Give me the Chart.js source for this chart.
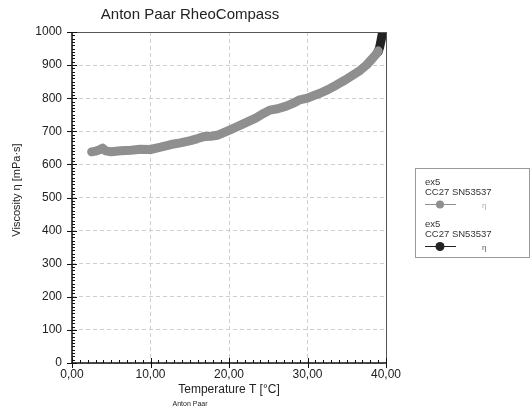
<!DOCTYPE html>
<html>
<head>
<meta charset="utf-8">
<title>Anton Paar RheoCompass</title>
<script src="https://cdn.jsdelivr.net/npm/chart.js@4/dist/chart.umd.min.js"></script>
<style>
  html, body { margin: 0; padding: 0; background: #fff; }
  canvas { display: block; }
</style>
</head>
<body>
<canvas id="viscosity-chart" width="531" height="411"></canvas>
<script>
'use strict';

var tempGrey = [2.5, 3.0, 3.5, 3.9, 4.3, 5.0, 6.2, 7.5, 8.7, 10.0, 11.3, 12.6, 13.8, 15.1, 16.0, 16.8,
  17.7, 18.5, 19.4, 20.0, 21.4, 22.5, 23.4, 24.4, 25.2, 26.2, 27.3, 28.2, 29.0, 30.0, 31.0, 31.6,
  32.6, 33.7, 34.8, 35.8, 36.7, 37.5, 38.2, 38.8, 39.0];
var viscGrey = [638, 640, 644, 649, 641, 638, 641, 643, 646, 645, 652, 660, 665, 672, 678, 684,
  685, 688, 697, 703, 718, 730, 740, 754, 764, 768, 776, 785, 795, 800, 810, 815,
  826, 840, 855, 870, 884, 900, 918, 935, 943];
var tempDark = [39.0, 39.2, 39.4, 39.6, 39.8];
var viscDark = [940, 955, 978, 1005, 1035];

var xTicks = [0, 10, 20, 30, 40];
var yTicks = [0, 100, 200, 300, 400, 500, 600, 700, 800, 900, 1000];

var seriesName = 'ex5';
var seriesDevice = 'CC27 SN53537';
var seriesSymbol = 'η';

var FONT = '"Liberation Sans", Arial, sans-serif';
var GREY = '#8f8f8f';
var DARK = '#222222';

function toPoints(xs, ys) {
  return xs.map(function (x, i) { return { x: x, y: ys[i] }; });
}

// Frame, minor ticks, titles, footer and legend drawn on the canvas
var decorPlugin = {
  id: 'rheoDecor',
  afterDatasetsDraw: function (chart) {
    var ctx = chart.ctx;
    var area = chart.chartArea;
    var xs = chart.scales.x;
    var ys = chart.scales.y;
    var i, p;

    ctx.save();

    // top and right frame
    ctx.strokeStyle = '#555';
    ctx.lineWidth = 1;
    ctx.beginPath();
    ctx.moveTo(area.left, area.top + 0.5);
    ctx.lineTo(area.right, area.top + 0.5);
    ctx.moveTo(area.right + 0.5, area.top);
    ctx.lineTo(area.right + 0.5, area.bottom);
    ctx.stroke();

    // axis lines
    ctx.strokeStyle = '#111';
    ctx.lineWidth = 1.5;
    ctx.beginPath();
    ctx.moveTo(area.left, area.top);
    ctx.lineTo(area.left, area.bottom);
    ctx.lineTo(area.right, area.bottom);
    ctx.stroke();

    // ticks on y
    ctx.lineWidth = 1;
    ctx.beginPath();
    for (i = 0; i <= 1000; i += 10) {
      p = Math.round(ys.getPixelForValue(i)) + 0.5;
      if (i % 100 === 0) {
        ctx.moveTo(area.left - 5, p);
        ctx.lineTo(area.left + 5, p);
      } else {
        ctx.moveTo(area.left, p);
        ctx.lineTo(area.left + 3, p);
      }
    }
    // ticks on x
    for (i = 0; i <= 40; i += 1) {
      p = Math.round(xs.getPixelForValue(i)) + 0.5;
      if (i % 10 === 0) {
        ctx.moveTo(p, area.bottom - 5);
        ctx.lineTo(p, area.bottom + 5);
      } else {
        ctx.moveTo(p, area.bottom);
        ctx.lineTo(p, area.bottom - 3);
      }
    }
    ctx.stroke();

    // title and footer
    ctx.fillStyle = '#222';
    ctx.textAlign = 'center';
    ctx.textBaseline = 'middle';
    ctx.font = '15px ' + FONT;
    ctx.fillText('Anton Paar RheoCompass', 190, 15);
    ctx.font = '7px ' + FONT;
    ctx.fillText('Anton Paar', 190, 404);

    // y axis title
    ctx.save();
    ctx.translate(17, 190);
    ctx.rotate(-Math.PI / 2);
    ctx.font = '11px ' + FONT;
    ctx.fillText('Viscosity η [mPa·s]', 0, 0);
    ctx.restore();

    // legend box
    ctx.strokeStyle = '#999';
    ctx.lineWidth = 1;
    ctx.strokeRect(415.5, 168.5, 114, 89);

    var entries = [
      { top: 182, color: GREY, symColor: '#aaa', r: 4 },
      { top: 224, color: DARK, symColor: '#555', r: 4.5 }
    ];
    ctx.textAlign = 'left';
    entries.forEach(function (e) {
      ctx.fillStyle = '#333';
      ctx.font = '9.5px ' + FONT;
      ctx.fillText(seriesName, 425, e.top);
      ctx.fillText(seriesDevice, 425, e.top + 10);
      ctx.strokeStyle = e.color;
      ctx.lineWidth = 1;
      ctx.beginPath();
      ctx.moveTo(425, e.top + 22.5);
      ctx.lineTo(456, e.top + 22.5);
      ctx.stroke();
      ctx.fillStyle = e.color;
      ctx.beginPath();
      ctx.arc(440, e.top + 22.5, e.r, 0, Math.PI * 2);
      ctx.fill();
      ctx.fillStyle = e.symColor;
      ctx.font = '8px ' + FONT;
      ctx.fillText(seriesSymbol, 482, e.top + 24);
    });

    ctx.restore();
  }
};

var lineStyle = {
  showLine: true,
  borderWidth: 9,
  borderCapStyle: 'round',
  borderJoinStyle: 'round',
  pointRadius: 0,
  tension: 0,
  clip: 0
};

new Chart(document.getElementById('viscosity-chart'), {
  type: 'scatter',
  data: {
    datasets: [
      Object.assign({ label: seriesName + ' ' + seriesDevice, data: toPoints(tempGrey, viscGrey),
        borderColor: GREY, backgroundColor: GREY }, lineStyle),
      Object.assign({ label: seriesName + ' ' + seriesDevice, data: toPoints(tempDark, viscDark),
        borderColor: DARK, backgroundColor: DARK }, lineStyle)
    ]
  },
  options: {
    responsive: false,
    animation: false,
    layout: { padding: { top: 32, right: 145, bottom: 0, left: 0 } },
    plugins: {
      legend: { display: false },
      title: { display: false },
      tooltip: { enabled: false }
    },
    scales: {
      x: {
        type: 'linear',
        min: 0,
        max: 40,
        afterBuildTicks: function (scale) {
          scale.ticks = xTicks.map(function (v) { return { value: v }; });
        },
        afterFit: function (scale) { scale.height = 48; },
        ticks: {
          padding: 4,
          color: '#222',
          font: { family: FONT, size: 12 },
          maxRotation: 0,
          callback: function (v) { return v.toFixed(2).replace('.', ','); }
        },
        grid: { color: '#cfcfcf', lineWidth: 1, drawTicks: false },
        border: { display: false, dash: [4, 3] },
        title: {
          display: true,
          text: 'Temperature T [°C]',
          color: '#222',
          font: { family: FONT, size: 12 },
          padding: { top: 0, bottom: 14 }
        }
      },
      y: {
        type: 'linear',
        min: 0,
        max: 1000,
        afterBuildTicks: function (scale) {
          scale.ticks = yTicks.map(function (v) { return { value: v }; });
        },
        afterFit: function (scale) { scale.width = 72; },
        ticks: {
          padding: 10,
          color: '#222',
          font: { family: FONT, size: 12 },
          callback: function (v) { return String(v); }
        },
        grid: { color: '#cfcfcf', lineWidth: 1, drawTicks: false },
        border: { display: false, dash: [4, 3] }
      }
    }
  },
  plugins: [decorPlugin]
});
</script>
</body>
</html>
